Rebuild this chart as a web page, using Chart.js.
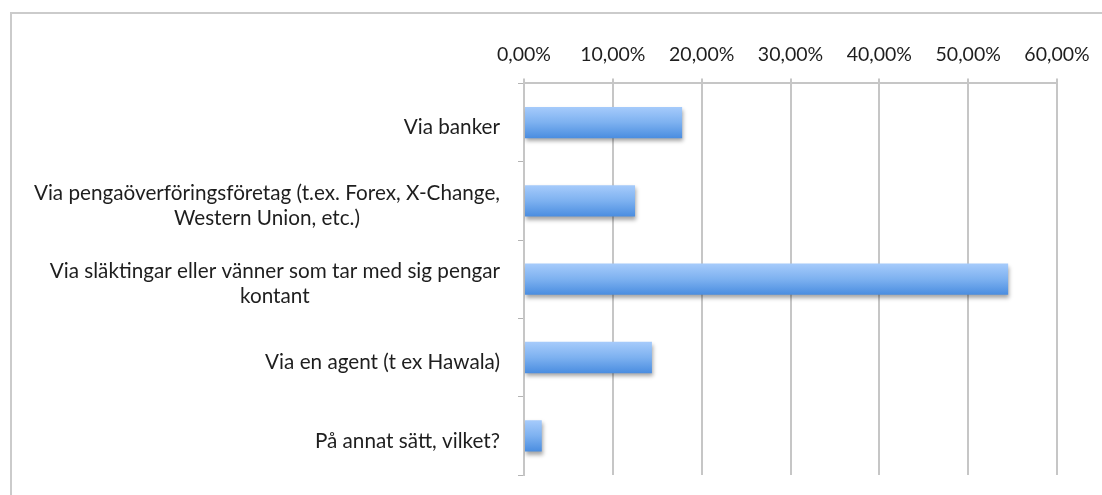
<!DOCTYPE html>
<html lang="sv">
<head>
    <meta charset="UTF-8">
    <title>Hur skickar du pengar?</title>
    <style>
        html, body {
            margin: 0;
            padding: 0;
            background: #ffffff;
            overflow: hidden;
        }
        .frame {
            position: absolute;
            left: 10px;
            top: 12px;
            width: 1200px;
            height: 600px;
            border: 2px solid #cbcbcb;
        }
        .wrap {
            position: absolute;
            left: 0;
            top: 0;
            width: 1102px;
            height: 495px;
        }
    </style>
</head>
<body>
<div class="frame"></div>
<div class="wrap">
    <canvas id="chart" width="1102" height="495"></canvas>
</div>

<script src="https://cdn.jsdelivr.net/npm/chart.js"></script>
<script>
    // kategorier (en rad per element i underlistan)
    const categories = [
        ['Via banker'],
        ['Via pengaöverföringsföretag (t.ex. Forex, X-Change,', 'Western Union, etc.)'],
        ['Via släktingar eller vänner som tar med sig pengar', 'kontant'],
        ['Via en agent (t ex Hawala)'],
        ['På annat sätt, vilket?']
    ];
    const shares = [0.178, 0.125, 0.545, 0.144, 0.020];
    const xTicks = [0, 0.1, 0.2, 0.3, 0.4, 0.5, 0.6];

    const labelFont = '20.7px Lato';

    function percentText(v) {
        return (v * 100).toFixed(2).replace('.', ',') + '%';
    }

    function barGradient(c) {
        const chart = c.chart;
        const y = chart.scales.y;
        if (!chart.chartArea || !y) return '#6fa6ec';
        const cy = y.getPixelForValue(c.dataIndex);
        const h = (y.height / categories.length) * 0.4;
        const g = chart.ctx.createLinearGradient(0, cy - h / 2, 0, cy + h / 2);
        g.addColorStop(0, '#a6cbfb');
        g.addColorStop(0.5, '#7db1f0');
        g.addColorStop(1, '#4a8de0');
        return g;
    }

    // skugga under staplarna
    const shadowPlugin = {
        id: 'barShadow',
        beforeDatasetDraw(chart) {
            const ctx = chart.ctx;
            ctx.save();
            ctx.shadowColor = 'rgba(0,0,0,0.35)';
            ctx.shadowBlur = 4;
            ctx.shadowOffsetX = 1;
            ctx.shadowOffsetY = 3;
        },
        afterDatasetDraw(chart) {
            chart.ctx.restore();
        }
    };

    // kategorietiketter: högerställda block, raderna centrerade inom blocket
    const labelPlugin = {
        id: 'catLabels',
        afterDraw(chart) {
            const ctx = chart.ctx;
            const y = chart.scales.y;
            const right = chart.chartArea.left - 24;
            const lineH = 25;
            ctx.save();
            ctx.font = labelFont;
            ctx.fillStyle = '#1e1e1e';
            ctx.textAlign = 'center';
            ctx.textBaseline = 'middle';
            categories.forEach((lines, i) => {
                const w = Math.max(...lines.map(l => ctx.measureText(l).width));
                const cx = right - w / 2;
                const cy = y.getPixelForValue(i) + 5;
                const top = cy - (lines.length - 1) * lineH / 2;
                lines.forEach((l, k) => ctx.fillText(l, cx, top + k * lineH));
            });
            ctx.restore();
        }
    };

    new Chart(document.getElementById('chart'), {
        type: 'bar',
        data: {
            labels: categories.map(c => c.join(' ')),
            datasets: [{
                data: shares,
                backgroundColor: barGradient,
                borderWidth: 0,
                barPercentage: 0.8,
                categoryPercentage: 0.5
            }]
        },
        options: {
            indexAxis: 'y',
            responsive: false,
            animation: false,
            events: [],
            layout: {
                padding: { left: 518, right: 45, top: 31, bottom: 20 }
            },
            plugins: {
                legend: { display: false },
                tooltip: { enabled: false }
            },
            scales: {
                x: {
                    position: 'top',
                    min: 0,
                    max: 0.6,
                    afterBuildTicks(scale) {
                        scale.ticks = xTicks.map(v => ({ value: v }));
                    },
                    grid: {
                        color: '#c6c6c6',
                        lineWidth: 2,
                        tickLength: 5
                    },
                    border: { color: '#c6c6c6', width: 2 },
                    ticks: {
                        padding: 12,
                        color: '#1e1e1e',
                        font: { family: 'Lato', size: 19.5 },
                        maxRotation: 0,
                        callback: v => percentText(v)
                    }
                },
                y: {
                    offset: true,
                    grid: {
                        offset: true,
                        drawOnChartArea: false,
                        color: '#b4b4b4',
                        lineWidth: 1,
                        tickLength: 6
                    },
                    border: { color: '#c6c6c6', width: 2 },
                    ticks: { display: false }
                }
            }
        },
        plugins: [shadowPlugin, labelPlugin]
    });
</script>
</body>
</html>
